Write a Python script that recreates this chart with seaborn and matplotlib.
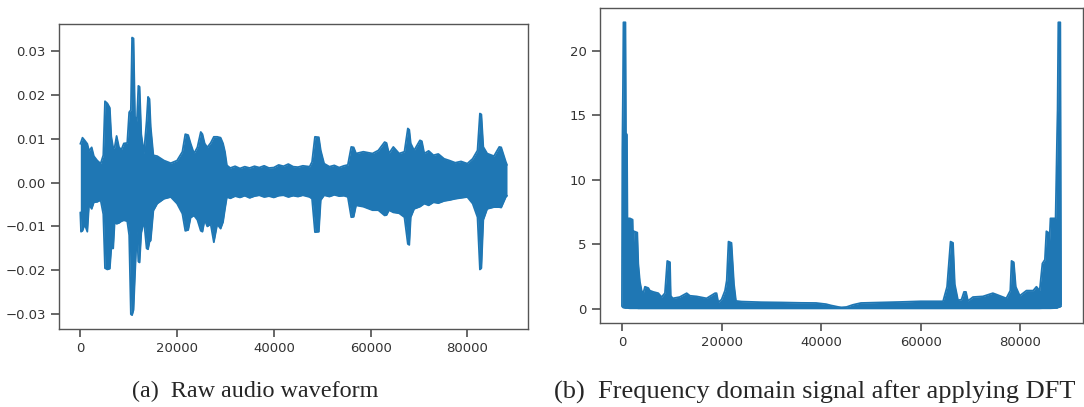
import numpy as np
import matplotlib
matplotlib.use("Agg")
import matplotlib.pyplot as plt
import seaborn as sns

# envelope of the raw waveform (sample index, top, bottom)
wave_x = [0, 150, 450, 900, 1450, 1800, 2350, 2800, 3500, 4200,
          4750, 5100, 5600, 6100, 6400, 6800, 7100, 7500, 8000, 8500,
          9000, 9700, 10100, 10450, 10700, 11000, 11300, 11700, 12000, 12250,
          12600, 13150, 13700, 14000, 14300, 14550, 15100, 15900, 17300, 18700,
          20000, 21100, 21700, 22300, 22800, 23500, 24200, 24900, 25250, 25700,
          26250, 26950, 27600, 28300, 29000, 29500, 29900, 30300, 31000, 32000,
          33000, 34000, 35000, 36000, 37000, 38000, 39000, 40000, 41000, 42000,
          43000, 44000, 45000, 46000, 47400, 47900, 48500, 49300, 49700, 50400,
          51500, 52500, 53500, 54500, 55300, 56000, 56500, 57000, 58500, 60400,
          61600, 62900, 63300, 63800, 64700, 65900, 67000, 67700, 68000, 68300,
          69000, 70200, 70600, 71100, 72000, 73000, 74000, 75200, 76300, 77500,
          78700, 80000, 81100, 82100, 82600, 82900, 83300, 84100, 85500, 86600,
          87000, 87950, 88200]
wave_hi = [0.0088, 0.0092, 0.0102, 0.0096, 0.0088, 0.0072, 0.0080, 0.0060, 0.0050, 0.0043,
           0.0062, 0.0185, 0.0180, 0.0170, 0.0105, 0.0078, 0.0080, 0.0106, 0.0080, 0.0075,
           0.0089, 0.0090, 0.0160, 0.0165, 0.0330, 0.0328, 0.0150, 0.0140, 0.0220, 0.0218,
           0.0110, 0.0066, 0.0140, 0.0195, 0.0190, 0.0127, 0.0062, 0.0060, 0.0050, 0.0044,
           0.0050, 0.0070, 0.0110, 0.0108, 0.0089, 0.0066, 0.0080, 0.0115, 0.0110, 0.0089,
           0.0080, 0.0090, 0.0104, 0.0104, 0.0102, 0.0089, 0.0070, 0.0039, 0.0033, 0.0037,
           0.0032, 0.0036, 0.0033, 0.0037, 0.0034, 0.0038, 0.0033, 0.0034, 0.0040, 0.0037,
           0.0042, 0.0036, 0.0035, 0.0038, 0.0036, 0.0047, 0.0104, 0.0103, 0.0073, 0.0043,
           0.0036, 0.0039, 0.0034, 0.0038, 0.0040, 0.0081, 0.0080, 0.0066, 0.0070, 0.0066,
           0.0073, 0.0092, 0.0090, 0.0066, 0.0081, 0.0066, 0.0070, 0.0123, 0.0120, 0.0089,
           0.0073, 0.0096, 0.0094, 0.0066, 0.0072, 0.0062, 0.0065, 0.0054, 0.0050, 0.0045,
           0.0048, 0.0043, 0.0054, 0.0073, 0.0157, 0.0155, 0.0081, 0.0066, 0.0060, 0.0081,
           0.0080, 0.0047, 0.0040]
wave_lo = [-0.0068, -0.0112, -0.0110, -0.0095, -0.0112, -0.0050, -0.0060, -0.0045, -0.0044, -0.0040,
           -0.0072, -0.0195, -0.0198, -0.0196, -0.0150, -0.0150, -0.0090, -0.0094, -0.0092, -0.0088,
           -0.0086, -0.0088, -0.0120, -0.0300, -0.0302, -0.0290, -0.0210, -0.0110, -0.0180, -0.0182,
           -0.0115, -0.0086, -0.0150, -0.0152, -0.0135, -0.0132, -0.0064, -0.0048, -0.0037, -0.0033,
           -0.0048, -0.0071, -0.0110, -0.0108, -0.0080, -0.0075, -0.0085, -0.0110, -0.0112, -0.0085,
           -0.0100, -0.0095, -0.0136, -0.0095, -0.0105, -0.0090, -0.0060, -0.0033, -0.0036, -0.0031,
           -0.0034, -0.0030, -0.0035, -0.0031, -0.0029, -0.0033, -0.0031, -0.0034, -0.0030, -0.0029,
           -0.0033, -0.0030, -0.0032, -0.0029, -0.0033, -0.0037, -0.0113, -0.0112, -0.0040, -0.0029,
           -0.0032, -0.0028, -0.0031, -0.0030, -0.0033, -0.0079, -0.0078, -0.0052, -0.0055, -0.0063,
           -0.0063, -0.0075, -0.0074, -0.0063, -0.0068, -0.0070, -0.0079, -0.0140, -0.0142, -0.0079,
           -0.0060, -0.0055, -0.0052, -0.0048, -0.0052, -0.0045, -0.0047, -0.0042, -0.0040, -0.0037,
           -0.0035, -0.0033, -0.0048, -0.0079, -0.0198, -0.0195, -0.0085, -0.0060, -0.0056, -0.0056,
           -0.0057, -0.0033, -0.0030]

# envelope of the DFT magnitude (bin index, top, bottom)
freq_x = [0, 80, 200, 300, 700, 800, 1000, 1100, 1600, 2140,
          2270, 2400, 3080, 3280, 3600, 3950, 4280, 4620, 5300, 5600,
          6300, 7300, 7950, 8630, 9100, 9650, 9800, 10200, 11600, 13000,
          13650, 15000, 17000, 18700, 19000, 19350, 20000, 20700, 21050, 21400,
          22000, 22500, 22900, 24000, 28000, 32000, 36000, 39000, 41000, 42000,
          43500, 44100, 45100, 46400, 48000, 52000, 56000, 60000, 64500, 65300,
          66000, 66500, 66850, 67500, 68200, 68700, 69100, 69500, 70500, 72500,
          74500, 75200, 77200, 78000, 78250, 78700, 79100, 79900, 81250, 82600,
          83250, 83900, 84450, 84950, 85250, 85650, 85800, 86070, 87100, 87400,
          87500, 87650, 88050, 88200]
freq_hi = [0.25, 12.3, 17.0, 22.2, 22.2, 13.6, 13.5, 7.0, 7.0, 6.9,
           4.6, 6.0, 5.9, 3.5, 2.1, 1.4, 1.2, 1.7, 1.6, 1.4,
           1.3, 1.2, 0.9, 1.2, 3.7, 3.6, 1.0, 0.8, 0.9, 1.2,
           1.0, 0.95, 0.8, 1.2, 1.2, 0.5, 0.7, 1.4, 2.2, 5.2,
           5.1, 1.9, 0.6, 0.55, 0.5, 0.48, 0.45, 0.44, 0.35, 0.25,
           0.13, 0.10, 0.13, 0.3, 0.44, 0.48, 0.52, 0.57, 0.57, 1.7,
           5.2, 5.1, 1.9, 0.65, 0.7, 1.3, 1.3, 0.6, 0.9, 0.95,
           1.2, 1.1, 0.8, 1.4, 3.7, 3.6, 1.7, 1.0, 1.4, 1.4,
           1.7, 1.4, 3.5, 3.8, 6.0, 5.9, 4.6, 7.0, 7.0, 13.5,
           15.4, 22.2, 22.2, 0.3]
freq_lo = [0.20, 0.15, 0.10, 0.08, 0.05, 0.05, 0.05, 0.05, 0.03, 0.03,
           0.03, 0.03, 0.03, 0.02, 0.02, 0.02, 0.02, 0.02, 0.02, 0.02,
           0.02, 0.02, 0.02, 0.02, 0.02, 0.02, 0.02, 0.02, 0.02, 0.02,
           0.02, 0.02, 0.02, 0.02, 0.02, 0.02, 0.02, 0.02, 0.02, 0.02,
           0.02, 0.02, 0.02, 0.02, 0.02, 0.02, 0.02, 0.02, 0.02, 0.02,
           0.02, 0.02, 0.02, 0.02, 0.02, 0.02, 0.02, 0.02, 0.02, 0.02,
           0.02, 0.02, 0.02, 0.02, 0.02, 0.02, 0.02, 0.02, 0.02, 0.02,
           0.02, 0.02, 0.02, 0.02, 0.02, 0.02, 0.02, 0.02, 0.02, 0.02,
           0.02, 0.02, 0.03, 0.03, 0.03, 0.03, 0.03, 0.03, 0.05, 0.05,
           0.08, 0.10, 0.15, 0.20]

captions = ["(a)  Raw audio waveform", "(b)  Frequency domain signal after applying DFT"]
blue = "#1f77b4"

assert len(wave_x) == len(wave_hi) == len(wave_lo)
assert len(freq_x) == len(freq_hi) == len(freq_lo)

sns.set_theme(style="ticks")
plt.rcParams["font.family"] = ["DejaVu Sans"]
plt.rcParams["axes.edgecolor"] = "#555555"
plt.rcParams["xtick.color"] = "#555555"
plt.rcParams["ytick.color"] = "#555555"
plt.rcParams["xtick.labelcolor"] = "#333333"
plt.rcParams["ytick.labelcolor"] = "#333333"
plt.rcParams["xtick.labelsize"] = 9.5
plt.rcParams["ytick.labelsize"] = 9.5

fig = plt.figure(figsize=(10.84, 4.07), dpi=100)
ax1 = fig.add_axes([0.0544, 0.1916, 0.4330, 0.7502])
ax2 = fig.add_axes([0.5535, 0.2071, 0.4456, 0.7732])


def draw(ax, x, hi, lo):
    ax.fill_between(x, lo, hi, color=blue, lw=0)
    sns.lineplot(x=x, y=hi, ax=ax, color=blue, lw=1.3, estimator=None, sort=False)
    sns.lineplot(x=x, y=lo, ax=ax, color=blue, lw=1.3, estimator=None, sort=False)
    ax.set_xlabel("")
    ax.set_ylabel("")
    ax.set_xticks([0, 20000, 40000, 60000, 80000])
    for s in ax.spines.values():
        s.set_linewidth(1.0)


draw(ax1, wave_x, wave_hi, wave_lo)
ax1.set_yticks([-0.03, -0.02, -0.01, 0.0, 0.01, 0.02, 0.03])
ax1.set_yticklabels(["\u22120.03", "\u22120.02", "\u22120.01", "0.00", "0.01", "0.02", "0.03"])

draw(ax2, freq_x, freq_hi, freq_lo)
ax2.set_yticks([0, 5, 10, 15, 20])

fig.text(0.1218, 0.037, captions[0], fontsize=17.4, family="Liberation Serif", va="center", ha="left")
fig.text(0.511, 0.037, captions[1], fontsize=19, family="Liberation Serif", va="center", ha="left")

fig.savefig("out.png", dpi=100)
